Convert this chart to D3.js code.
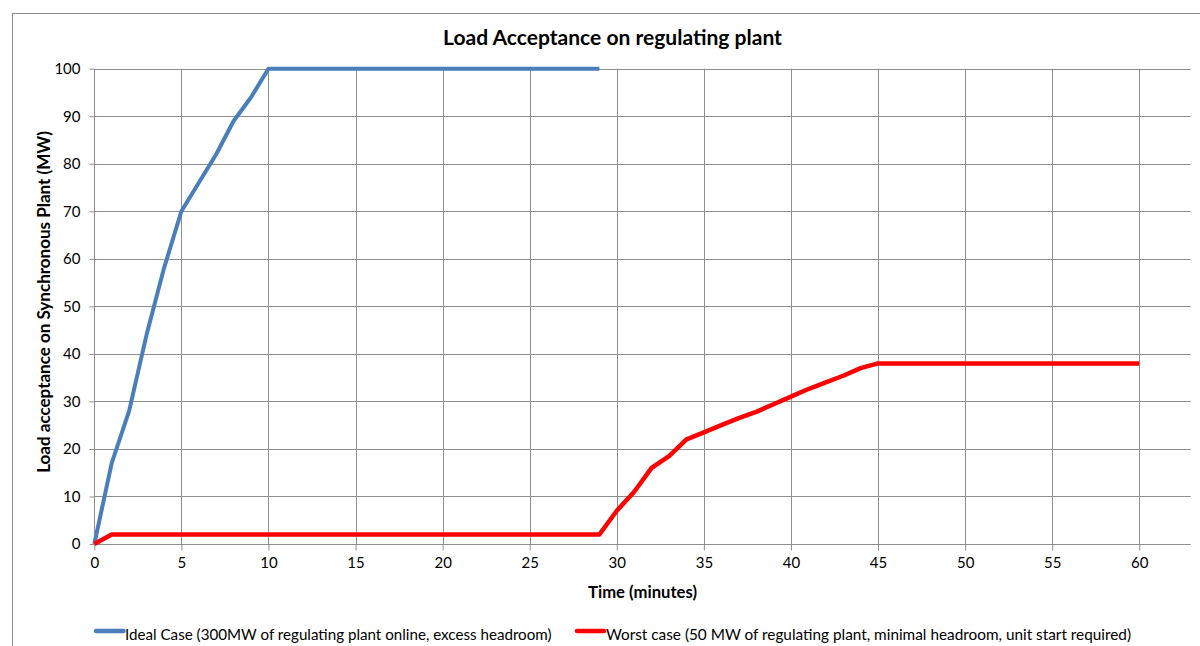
<!DOCTYPE html>
<html>
<head>
<meta charset="utf-8">
<script src="https://cdn.jsdelivr.net/npm/d3@7"></script>
<style>
  html, body { margin: 0; padding: 0; background: #fff; }
  svg { display: block; }
  text { font-family: Lato, "Open Sans", sans-serif; fill: #000; }
</style>
</head>
<body>
<svg id="chart" width="1200" height="646"></svg>
<script>
// ---- Data ----
const chartTitle = "Load Acceptance on regulating plant";
const xAxisTitle = "Time (minutes)";
const yAxisTitle = "Load acceptance on Synchronous Plant (MW)";

const idealName = "Ideal Case (300MW of regulating plant online, excess headroom)";
const worstName = "Worst case (50 MW of regulating plant, minimal headroom, unit start required)";

const idealTime = [0,1,2,3,4,5,6,7,8,9,10,11,12,13,14,15,16,17,18,19,20,21,22,23,24,25,26,27,28,29];
const idealValues = [0,17,28,44,58,70,76,82,89,94,100,100,100,100,100,100,100,100,100,100,100,100,100,100,100,100,100,100,100,100];

const worstTime = [0,1,2,3,4,5,6,7,8,9,10,11,12,13,14,15,16,17,18,19,20,21,22,23,24,25,26,27,28,29,30,31,32,33,34,35,36,37,38,39,40,41,42,43,44,45,46,47,48,49,50,51,52,53,54,55,56,57,58,59,60];
const worstValues = [0,2,2,2,2,2,2,2,2,2,2,2,2,2,2,2,2,2,2,2,2,2,2,2,2,2,2,2,2,2,7,11,16,18.5,22,23.5,25,26.5,27.8,29.4,31,32.6,34,35.4,37,38,38,38,38,38,38,38,38,38,38,38,38,38,38,38,38];

const xTicks = [0,5,10,15,20,25,30,35,40,45,50,55,60];
const yTicks = [0,10,20,30,40,50,60,70,80,90,100];

// ---- Layout ----
const plot = { left: 94.3, top: 68.7, right: 1190.7, bottom: 544 };
const xAt60 = 1139.3;
const gridColor = "#8e8e8e";

const svg = d3.select("#chart");

// outer chart border
svg.append("rect")
  .attr("x", 12.5).attr("y", 13.5)
  .attr("width", 1210).attr("height", 660)
  .attr("fill", "none").attr("stroke", "#8a8a8a").attr("stroke-width", 1);

const x = d3.scaleLinear().domain([0, 60]).range([plot.left, xAt60]);
const y = d3.scaleLinear().domain([0, 100]).range([plot.bottom, plot.top]);

const g = svg.append("g");

// horizontal gridlines
g.selectAll("line.hgrid").data(yTicks.filter(d => d > 0)).enter().append("line")
  .attr("x1", plot.left).attr("x2", plot.right)
  .attr("y1", d => Math.round(y(d)) + 0.5).attr("y2", d => Math.round(y(d)) + 0.5)
  .attr("stroke", gridColor).attr("stroke-width", 1);

// vertical gridlines
g.selectAll("line.vgrid").data(xTicks.filter(d => d > 0)).enter().append("line")
  .attr("x1", d => Math.round(x(d)) + 0.5).attr("x2", d => Math.round(x(d)) + 0.5)
  .attr("y1", plot.top).attr("y2", plot.bottom)
  .attr("stroke", gridColor).attr("stroke-width", 1);

// axes
const xAxis = d3.axisBottom(x).tickValues(xTicks).tickSize(6).tickPadding(7).tickFormat(d3.format("d"));
const yAxis = d3.axisLeft(y).tickValues(yTicks).tickSize(5).tickPadding(9).tickFormat(d3.format("d"));

const xg = svg.append("g").attr("transform", `translate(0,${Math.round(plot.bottom) + 0.5})`).call(xAxis);
const yg = svg.append("g").attr("transform", `translate(${Math.round(plot.left) + 0.5},0)`).call(yAxis);

xg.select(".domain").attr("d", `M${plot.left},0H${plot.right}`).attr("stroke", gridColor);
yg.select(".domain").attr("d", `M0,${plot.top}V${plot.bottom}`).attr("stroke", gridColor);
[xg, yg].forEach(a => {
  a.selectAll(".tick line").attr("stroke", gridColor);
  a.selectAll(".tick text").attr("font-family", "Lato, 'Open Sans', sans-serif")
    .attr("font-size", 15).attr("fill", "#000");
});

// series
const line = d3.line().x(d => x(d[0])).y(d => y(d[1]));
const idealData = idealTime.map((t, i) => [t, idealValues[i]]);
const worstData = worstTime.map((t, i) => [t, worstValues[i]]);

svg.append("path").datum(idealData).attr("d", line)
  .attr("fill", "none").attr("stroke", "#4a7ebb").attr("stroke-width", 4)
  .attr("stroke-linejoin", "round");
svg.append("path").datum(worstData).attr("d", line)
  .attr("fill", "none").attr("stroke", "#ff0000").attr("stroke-width", 4.5)
  .attr("stroke-linejoin", "round");

// text helper: fit text to a target width by adjusting font size
function fitText(sel, targetWidth) {
  const w = sel.node().getComputedTextLength();
  const fs = parseFloat(sel.attr("font-size"));
  sel.attr("font-size", (fs * targetWidth / w).toFixed(2));
  return sel;
}

// title
fitText(svg.append("text").text(chartTitle)
  .attr("x", 612.5).attr("y", 45).attr("text-anchor", "middle")
  .attr("font-weight", "bold").attr("font-size", 18), 339);

// x axis title
fitText(svg.append("text").text(xAxisTitle)
  .attr("x", (plot.left + plot.right) / 2).attr("y", 598).attr("text-anchor", "middle")
  .attr("font-weight", "bold").attr("font-size", 14), 109);

// y axis title
fitText(svg.append("text").text(yAxisTitle)
  .attr("transform", `translate(49.5,302) rotate(-90)`).attr("text-anchor", "middle")
  .attr("font-weight", "bold").attr("font-size", 14), 342);

// legend
const legendItems = [
  { name: idealName, color: "#4a7ebb", x0: 96, x1: 123.5, tx: 125, tw: 427 },
  { name: worstName, color: "#ff0000", x0: 577, x1: 604, tx: 606, tw: 525 }
];
const lg = svg.append("g");
legendItems.forEach(it => {
  lg.append("line").attr("x1", it.x0).attr("x2", it.x1).attr("y1", 631).attr("y2", 631)
    .attr("stroke", it.color).attr("stroke-width", 4.5).attr("stroke-linecap", "round");
  fitText(lg.append("text").text(it.name).attr("x", it.tx).attr("y", 639.5)
    .attr("font-size", 14), it.tw);
});
</script>
</body>
</html>
